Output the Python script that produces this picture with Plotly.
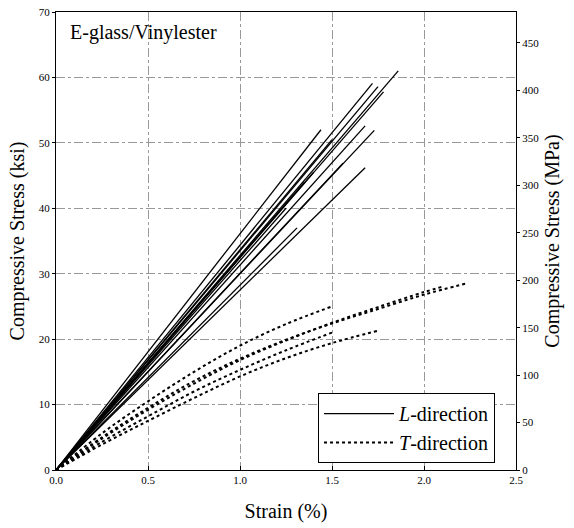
import plotly.graph_objects as go

KSI_TO_MPA = 6.89476

# L-direction curves: (strain %, stress ksi) points
L_curves = [
    ([0, 1.86], [0, 61.0]),
    ([0, 1.72], [0, 59.1]),
    ([0, 1.75], [0, 58.6]),
    ([0, 1.78], [0, 57.8]),
    ([0, 1.44], [0, 52.0]),
    ([0, 1.68], [0, 52.6]),
    ([0, 1.73], [0, 51.9]),
    ([0, 1.68], [0, 46.2]),
    ([0, 1.56], [0, 46.9]),
    ([0, 1.31], [0, 37.0]),
    ([0, 1.50], [0, 50.5]),
    ([0, 1.35], [0, 44.0]),
    ([0, 1.25], [0, 40.0]),
    ([0, 1.40], [0, 45.5]),
]

# T-direction curves
T_curves = [
    ([0, 0.25, 0.5, 0.75, 1.0, 1.25, 1.5],
     [0, 5.6, 10.5, 15.0, 19.0, 22.3, 25.0]),
    ([0, 0.25, 0.5, 0.75, 1.0, 1.25, 1.5, 1.75, 2.0, 2.23],
     [0, 5.0, 9.5, 13.6, 17.0, 19.9, 22.4, 24.6, 26.8, 28.5]),
    ([0, 0.25, 0.5, 0.75, 1.0, 1.25, 1.5, 1.75, 2.0, 2.1],
     [0, 4.8, 9.2, 13.2, 16.8, 19.8, 22.5, 24.9, 27.2, 28.0]),
    ([0, 0.25, 0.5, 0.75, 1.0, 1.25, 1.5],
     [0, 4.3, 8.2, 12.0, 15.3, 18.3, 21.0]),
    ([0, 0.25, 0.5, 0.75, 1.0, 1.25, 1.5, 1.75],
     [0, 3.9, 7.5, 11.0, 14.3, 17.1, 19.4, 21.3]),
]

x_ticks = [0.0, 0.5, 1.0, 1.5, 2.0, 2.5]
ksi_ticks = [0, 10, 20, 30, 40, 50, 60, 70]
mpa_ticks = [0, 50, 100, 150, 200, 250, 300, 350, 400, 450]

FONT = "Liberation Serif"
fig = go.Figure()

for i, (xs, ys) in enumerate(L_curves):
    fig.add_trace(go.Scatter(x=xs, y=ys, mode="lines",
                             line=dict(color="black", width=1.3),
                             name="<i>L</i>-direction", legendgroup="L",
                             showlegend=(i == 0), hoverinfo="skip"))
for i, (xs, ys) in enumerate(T_curves):
    fig.add_trace(go.Scatter(x=xs, y=ys, mode="lines", line_shape="spline",
                             line=dict(color="black", width=2, dash="dot"),
                             name="<i>T</i>-direction", legendgroup="T",
                             showlegend=(i == 0), hoverinfo="skip"))

# helper trace for right axis
fig.add_trace(go.Scatter(x=[0], y=[0], yaxis="y2", mode="markers",
                         marker=dict(opacity=0), showlegend=False, hoverinfo="skip"))

grid = dict(showgrid=True, gridcolor="#999999", griddash="dashdot", gridwidth=1)

fig.update_layout(
    width=574, height=528,
    margin=dict(l=56, r=58, t=12, b=58, autoexpand=False),
    plot_bgcolor="white", paper_bgcolor="white",
    font=dict(family=FONT, color="black", size=11),
    showlegend=True,
    xaxis=dict(range=[0, 2.5], tickvals=x_ticks,
               ticktext=[f"{v:.1f}" for v in x_ticks],
               showline=True, linecolor="black", linewidth=1.2, mirror=True,
               ticks="inside", ticklen=4, tickcolor="black",
               zeroline=False, automargin=False,
               title=dict(text="Strain (%)", font=dict(size=20), standoff=18),
               **grid),
    yaxis=dict(range=[0, 70], tickvals=ksi_ticks,
               showline=True, linecolor="black", linewidth=1.2,
               ticks="outside", ticklen=3, tickcolor="black",
               zeroline=False, automargin=False,
               title=dict(text="Compressive Stress (ksi)", font=dict(size=20), standoff=8),
               **grid),
    yaxis2=dict(range=[0, 70 * KSI_TO_MPA], tickvals=mpa_ticks,
                overlaying="y", side="right",
                showline=True, linecolor="black", linewidth=1.2,
                ticks="outside", ticklen=3, tickcolor="black",
                showgrid=False, zeroline=False, automargin=False,
                title=dict(text="Compressive Stress (MPa)", font=dict(size=20), standoff=6)),
    legend=dict(x=0.5696, y=0.168, xanchor="left", yanchor="top",
                bordercolor="black", borderwidth=1, bgcolor="white",
                font=dict(size=20, family=FONT),
                tracegroupgap=0, itemwidth=70),
    annotations=[dict(text="E-glass/Vinylester", x=0.026, y=0.985,
                      xref="paper", yref="paper", xanchor="left", yanchor="top",
                      showarrow=False, font=dict(size=20, family=FONT))],
)

fig.write_html("out.html", config={"displayModeBar": False},
               post_script="document.body.style.margin='0';")
